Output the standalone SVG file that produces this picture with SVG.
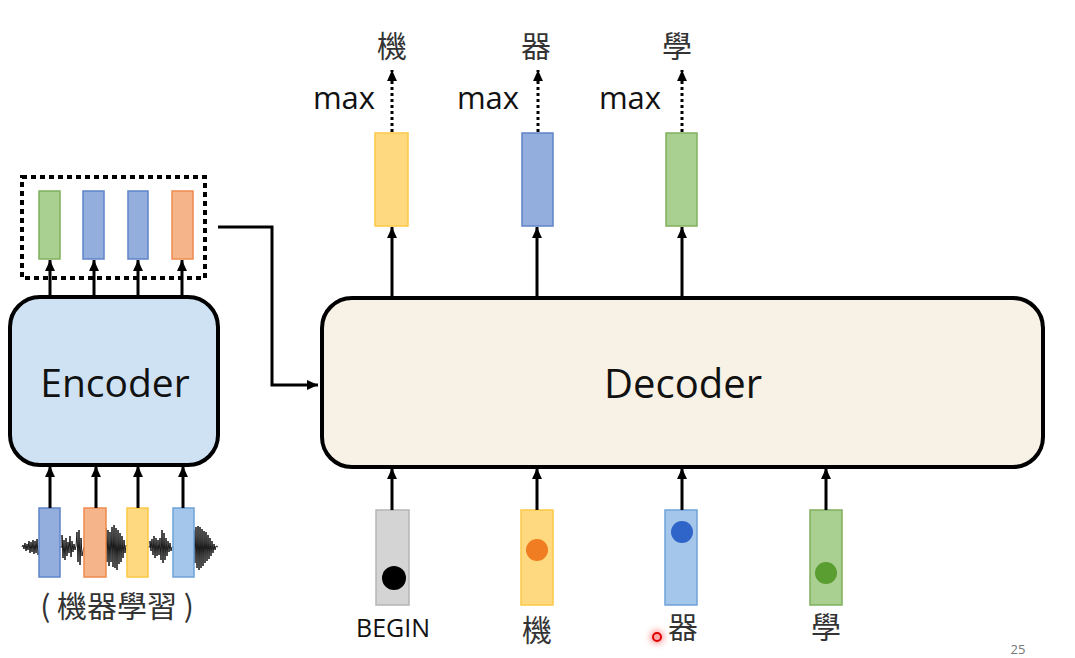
<svg xmlns="http://www.w3.org/2000/svg" width="1075" height="658" viewBox="0 0 1075 658">
<defs>
<marker id="ah" markerUnits="userSpaceOnUse" markerWidth="11" markerHeight="11" viewBox="0 0 10 10" refX="10" refY="5" orient="auto"><path d="M0,0.5 L10,5 L0,9.5 z" fill="#000"/></marker>
<filter id="glow" x="-2" y="-2" width="5" height="5"><feGaussianBlur stdDeviation="3"/></filter>
</defs>
<style>
.box{stroke:#000;stroke-width:4}
.lbl{font-family:"Open Sans","Noto Sans",sans-serif;fill:#111}
.cjk{font-family:"Noto Sans CJK TC",sans-serif;fill:#333}
.arr{stroke:#000;stroke-width:3;fill:none;marker-end:url(#ah)}
.dot{stroke:#000;stroke-width:3;fill:none;stroke-dasharray:3 3;marker-end:url(#ah)}
.g{fill:#a9cf91;stroke:#7fb05c;stroke-width:1.5}
.b{fill:#93aedd;stroke:#5f84c8;stroke-width:1.5}
.o{fill:#f6b48a;stroke:#ee8a4c;stroke-width:1.5}
.y{fill:#ffd980;stroke:#fcc747;stroke-width:1.5}
.lb{fill:#a4c6ea;stroke:#6ea2d8;stroke-width:1.5}
.gr{fill:#d4d4d4;stroke:#b5b5b5;stroke-width:1.5}
</style>
<rect width="1075" height="658" fill="#fff"/>

<g id="waveform">
<polyline fill="none" stroke="#000" stroke-width="0.9" stroke-linejoin="bevel" points="22,547 23,545 24,549 25,543 26,551 27,544 28,550 29,541 30,553 31,542 32,552 33,540 34,554 35,541 36,553 37,539 38,555 40,547 62,547 62,535 63,558 64,540 65,560 66,538 67,556 68,542 69,553 70,536 71,557 72,541 73,552 74,544 75,550 76,546 77,532 78,562 79,530 80,565 81,538 82,556 84,547 106,547 106,528 107,562 108,530 109,566 110,532 111,562 112,527 113,567 114,525 115,568 116,528 117,570 118,530 119,564 120,533 121,562 122,536 123,558 124,540 125,553 126,545 128,547 150,547 150,541 151,551 152,539 153,555 154,536 155,558 156,538 157,556 158,540 159,555 160,538 161,560 162,530 163,563 164,533 165,560 166,538 167,556 168,541 169,552 170,543 171,551 172,547 174,547 194,547 194,530 195,563 196,527 197,568 198,526 199,570 200,527 201,568 202,529 203,566 204,531 205,563 206,532 207,561 208,535 209,559 210,538 211,556 212,541 213,553 214,544 215,550 216,546 218,547"/>
</g>

<g id="encoder-inputs">
<rect class="b" x="39" y="508" width="21" height="69"/>
<rect class="o" x="84" y="508" width="22" height="69"/>
<rect class="y" x="127" y="508" width="21" height="69"/>
<rect class="lb" x="173" y="508" width="21" height="69"/>
<text class="cjk" x="117" y="617" font-size="30" text-anchor="middle" fill="#444">( 機器學習 )</text>
</g>

<g id="encoder">
<rect class="box" x="10" y="297" width="208" height="168" rx="30" fill="#cfe2f4"/>
<text class="lbl" x="115" y="397" font-size="39" text-anchor="middle">Encoder</text>
</g>

<g id="encoder-outputs">
<rect x="22" y="177" width="183" height="101" fill="none" stroke="#000" stroke-width="4" stroke-dasharray="5 4"/>
<rect class="g" x="39" y="191" width="21" height="68"/>
<rect class="b" x="83" y="191" width="21" height="68"/>
<rect class="b" x="128" y="191" width="20" height="68"/>
<rect class="o" x="172" y="191" width="21" height="68"/>
</g>

<g id="decoder">
<rect class="box" x="322" y="298" width="721" height="169" rx="30" fill="#f7f1e6"/>
<text class="lbl" x="683" y="398" font-size="40" text-anchor="middle">Decoder</text>
</g>

<g id="decoder-outputs">
<rect class="y" x="375" y="133" width="33" height="93"/>
<rect class="b" x="522" y="133" width="31" height="93"/>
<rect class="g" x="666" y="133" width="31" height="93"/>
<text class="lbl" x="344" y="109" font-size="31" text-anchor="middle">max</text>
<text class="lbl" x="488" y="109" font-size="31" text-anchor="middle">max</text>
<text class="lbl" x="630" y="109" font-size="31" text-anchor="middle">max</text>
<text class="cjk" x="392" y="57" font-size="30" text-anchor="middle">機</text>
<text class="cjk" x="536" y="57" font-size="30" text-anchor="middle">器</text>
<text class="cjk" x="677" y="57" font-size="30" text-anchor="middle">學</text>
</g>

<g id="decoder-inputs">
<rect class="gr" x="376" y="510" width="33" height="95"/>
<circle cx="394" cy="578" r="12" fill="#000"/>
<rect class="y" x="521" y="510" width="32" height="95"/>
<circle cx="537" cy="550" r="11" fill="#f07d22"/>
<rect class="lb" x="665" y="510" width="32" height="95"/>
<circle cx="682" cy="532" r="11" fill="#2f64c8"/>
<rect class="g" x="810" y="510" width="32" height="95"/>
<circle cx="826" cy="573" r="11" fill="#5a9e32"/>
<text class="lbl" x="393" y="637" font-size="25" text-anchor="middle">BEGIN</text>
<text class="cjk" x="537" y="641" font-size="30" text-anchor="middle">機</text>
<text class="cjk" x="683" y="638" font-size="30" text-anchor="middle">器</text>
<text class="cjk" x="826" y="638" font-size="30" text-anchor="middle">學</text>
</g>

<g id="connectors">
<line class="arr" x1="50" y1="508" x2="50" y2="466"/>
<line class="arr" x1="96" y1="508" x2="96" y2="466"/>
<line class="arr" x1="138" y1="508" x2="138" y2="466"/>
<line class="arr" x1="183" y1="508" x2="183" y2="466"/>
<line class="arr" x1="50" y1="297" x2="50" y2="260"/>
<line class="arr" x1="94" y1="297" x2="94" y2="260"/>
<line class="arr" x1="138" y1="297" x2="138" y2="260"/>
<line class="arr" x1="182" y1="297" x2="182" y2="260"/>
<polyline class="arr" points="218,227 272,227 272,385 318,385"/>
<line class="arr" x1="392" y1="298" x2="392" y2="227"/>
<line class="arr" x1="537" y1="298" x2="537" y2="227"/>
<line class="arr" x1="682" y1="298" x2="682" y2="227"/>
<line class="dot" x1="392" y1="132" x2="392" y2="70"/>
<line class="dot" x1="538" y1="132" x2="538" y2="70"/>
<line class="dot" x1="682" y1="132" x2="682" y2="70"/>
<line class="arr" x1="392" y1="510" x2="392" y2="468"/>
<line class="arr" x1="537" y1="510" x2="537" y2="468"/>
<line class="arr" x1="682" y1="510" x2="682" y2="468"/>
<line class="arr" x1="826" y1="510" x2="826" y2="468"/>
</g>

<g id="pointer">
<circle cx="657" cy="637" r="7" fill="#ff4040" opacity="0.5" filter="url(#glow)"/>
<circle cx="657" cy="637" r="4" fill="none" stroke="#e00000" stroke-width="2"/>
</g>
<text x="1018" y="654" font-family="Open Sans,sans-serif" font-size="13" fill="#777" text-anchor="middle">25</text>
</svg>
